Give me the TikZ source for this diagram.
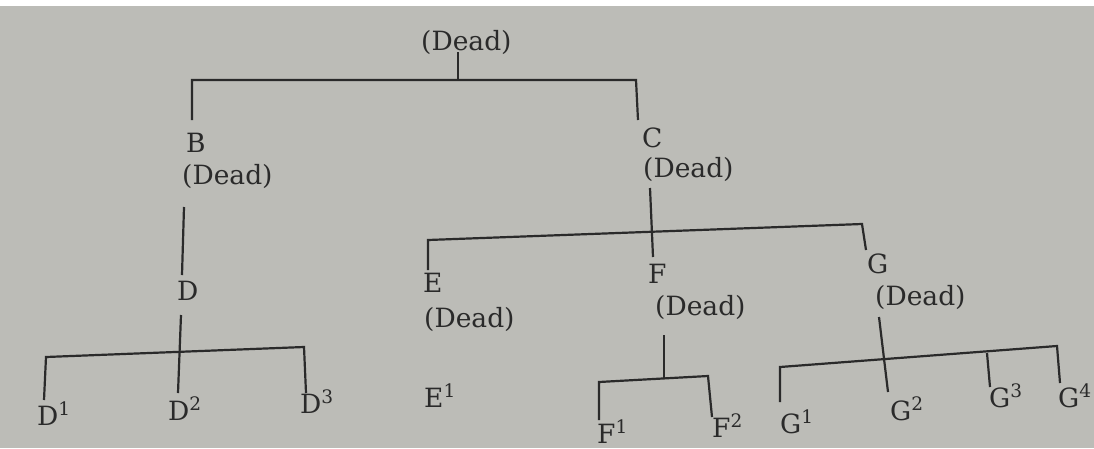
\documentclass[tikz,border=0pt]{standalone}
\usepackage{fontspec}
\setmainfont{DejaVu Serif}
\definecolor{paper}{RGB}{188,188,183}
\definecolor{ink}{RGB}{42,42,42}
\tikzset{
  ln/.style={draw=ink, line width=2.2pt},
  lbl/.style={anchor=base west, inner sep=0pt, text=ink, font=\fontsize{26.5}{32}\selectfont}
}
\newcommand{\sps}[1]{\textsuperscript{#1}}
\begin{document}
\begin{tikzpicture}[x=1pt,y=-1pt]
\useasboundingbox (0,0) rectangle (1094,448);
\fill[paper] (0,0) rectangle (1094,448);
\fill[white] (0,0) rectangle (1094,6);
% text nodes
\node[lbl] (root) at (421,50) {(Dead)};
\node[lbl] (B) at (186,152) {B};
\node[lbl] (Bd) at (182,184) {(Dead)};
\node[lbl] (C) at (642,147) {C};
\node[lbl] (Cd) at (643,177) {(Dead)};
\node[lbl] (D) at (177,300) {D};
\node[lbl] (E) at (423,292) {E};
\node[lbl] (Ed) at (424,327) {(Dead)};
\node[lbl] (E1) at (424,407) {E\sps{1}};
\node[lbl] (F) at (648,283) {F};
\node[lbl] (Fd) at (655,315) {(Dead)};
\node[lbl] (G) at (867,273) {G};
\node[lbl] (Gd) at (875,305) {(Dead)};
\node[lbl] (D1) at (37,425) {D\sps{1}};
\node[lbl] (D2) at (168,420) {D\sps{2}};
\node[lbl] (D3) at (300,413) {D\sps{3}};
\node[lbl] (F1) at (597,443) {F\sps{1}};
\node[lbl] (F2) at (712,437) {F\sps{2}};
\node[lbl] (G1) at (780,433) {G\sps{1}};
\node[lbl] (G2) at (890,420) {G\sps{2}};
\node[lbl] (G3) at (989,407) {G\sps{3}};
\node[lbl] (G4) at (1058,407) {G\sps{4}};
% junction coordinates
\coordinate (r0) at (458,52);
\coordinate (r1) at (458,80);
\coordinate (bl) at (192,80);
\coordinate (br) at (636,80);
\coordinate (bB) at (192,120);
\coordinate (bC) at (638,120);
\coordinate (b0) at (184,207);
\coordinate (b1) at (182,275);
\coordinate (d0) at (181,315);
\coordinate (d1) at (178,393);
\coordinate (dl) at (46,357);
\coordinate (dr) at (304,347);
\coordinate (dD1) at (44,400);
\coordinate (dD3) at (306,393);
\coordinate (c0) at (650,188);
\coordinate (c1) at (653,257);
\coordinate (el) at (428,240);
\coordinate (er) at (862,224);
\coordinate (eE) at (428,270);
\coordinate (eG) at (866,250);
\coordinate (f0) at (664,335);
\coordinate (f1) at (664,378);
\coordinate (fl) at (599,382);
\coordinate (fr) at (708,376);
\coordinate (fF1) at (599,420);
\coordinate (fF2) at (712,417);
\coordinate (g0) at (879,317);
\coordinate (g1) at (888,392);
\coordinate (gl) at (780,367);
\coordinate (gr) at (1057,346);
\coordinate (gG1) at (780,402);
\coordinate (g3a) at (987,353);
\coordinate (g3b) at (990,387);
\coordinate (gG4) at (1060,383);
% connectors
\draw[ln] (r0) -- (r1);
\draw[ln] (bB) -- (bl) -- (br) -- (bC);
\draw[ln] (b0) -- (b1);
\draw[ln] (d0) -- (d1);
\draw[ln] (dD1) -- (dl) -- (dr) -- (dD3);
\draw[ln] (c0) -- (c1);
\draw[ln] (eE) -- (el) -- (er) -- (eG);
\draw[ln] (f0) -- (f1);
\draw[ln] (fF1) -- (fl) -- (fr) -- (fF2);
\draw[ln] (g0) -- (g1);
\draw[ln] (gG1) -- (gl) -- (gr) -- (gG4);
\draw[ln] (g3a) -- (g3b);
\end{tikzpicture}
\end{document}
